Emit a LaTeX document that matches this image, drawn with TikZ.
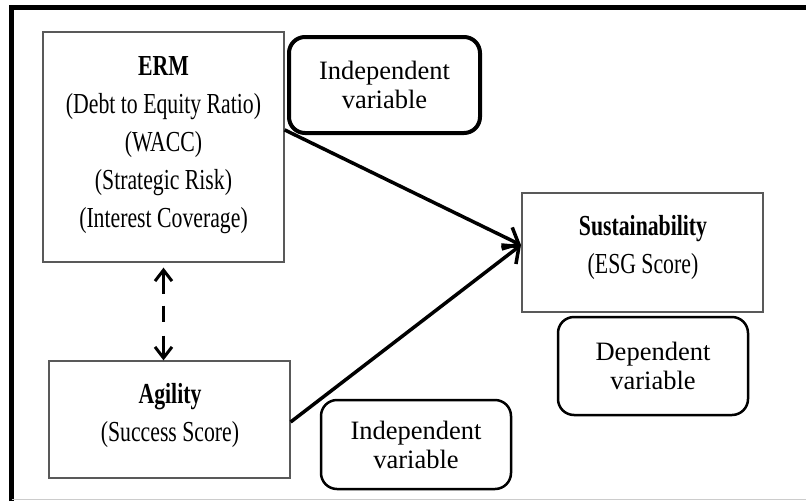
\documentclass[tikz,border=0pt]{standalone}
\usepackage{fontspec}
\setmainfont{Liberation Serif}
\newfontfamily\condfont[FakeStretch=0.75]{Liberation Serif}
\usetikzlibrary{arrows.meta,calc}
\begin{document}
\begin{tikzpicture}[x=1pt,y=-1pt,
  bigbox/.style={draw=black!65,line width=1.3pt,fill=white,inner sep=0pt},
  bigtext/.style={anchor=north,inner sep=0pt,align=center,
    font=\condfont\fontsize{29}{38}\selectfont},
  tagbox/.style={draw=black,line width=2.5pt,rounded corners=16pt,align=center,
    inner sep=0pt,font=\fontsize{26.5}{29}\selectfont},
  tagboxthick/.style={tagbox,line width=4pt},
  mainarrow/.style={line width=3.5pt,-{Straight Barb[length=13pt,width=24pt,line width=3.5pt]}},
  dasharrow/.style={line width=3pt,dash pattern=on 22pt off 12pt on 16pt off 14pt on 30pt,
    {Straight Barb[length=11pt,width=17pt,line width=3pt]}-{Straight Barb[length=11pt,width=17pt,line width=3pt]}}
]
\useasboundingbox (0,0) rectangle (806,501);
\fill[white] (0,0) rectangle (806,501);
% frame
\draw[line width=5pt] (11.5,501) -- (11.5,7.5) -- (806,7.5);
\draw[black!20,line width=1.5pt] (11.5,499.5) -- (806,499.5);

% main boxes
\node[bigbox,minimum width=241pt,minimum height=230pt] (ermbox) at (163.5,147) {};
\node[bigbox,minimum width=241pt,minimum height=119pt] (sustbox) at (642.5,252.5) {};
\node[bigbox,minimum width=241pt,minimum height=117pt] (agibox) at (169.5,419.5) {};

\node[bigtext] (ermtxt) at (163.5,56) {\bfseries ERM\\(Debt to Equity Ratio)\\(WACC)\\(Strategic Risk)\\(Interest Coverage)};
\node[bigtext] (susttxt) at (643,215) {\bfseries Sustainability\\(ESG Score)};
\node[bigtext] (agitxt) at (170,383) {\bfseries Agility\\(Success Score)};

% tag boxes
\node[tagboxthick,minimum width=191pt,minimum height=96pt] (indepA) at (384.5,85) {Independent\\variable};
\node[tagbox,minimum width=190pt,minimum height=98pt] (dep) at (653,366) {Dependent\\variable};
\node[tagbox,minimum width=190pt,minimum height=89pt] (indepB) at (416,444.5) {Independent\\variable};

% connectors
\coordinate (meet) at (521,245);
\draw[mainarrow] ($(ermbox.north east)!0.426!(ermbox.south east)$) -- (meet);
\draw[mainarrow] ($(agibox.east)+(0,2.5)$) -- (meet);
\draw[dasharrow,shorten <=5pt] (ermbox.south) -- (ermbox.south |- agibox.north);
\end{tikzpicture}
\end{document}
